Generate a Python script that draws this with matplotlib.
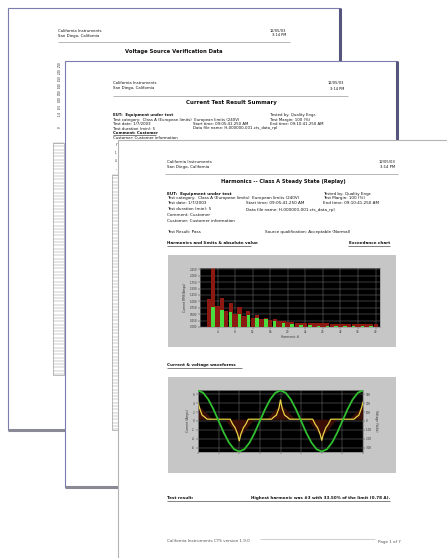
import matplotlib
matplotlib.use("Agg")
import matplotlib.pyplot as plt
from matplotlib.patches import Rectangle

W, H = 447, 558

# harmonic chart on the front page (orders 2..40)
harm_order = list(range(2, 41))
harm_limit = [1.08, 2.30, 0.80, 1.14, 0.62, 0.92, 0.50, 0.78, 0.42, 0.62,
              0.36, 0.47, 0.30, 0.36, 0.26, 0.30, 0.22, 0.24, 0.20, 0.20,
              0.16, 0.16, 0.15, 0.15, 0.14, 0.14, 0.14, 0.14, 0.13, 0.13,
              0.13, 0.13, 0.13, 0.13, 0.13, 0.13, 0.13, 0.13, 0.13]
odd_order = [3, 5, 7, 9, 11, 13, 15, 17, 19, 21, 23, 25, 27, 29, 31, 33, 35, 37, 39]
harm_meas = [0.78, 0.68, 0.59, 0.52, 0.45, 0.35, 0.30, 0.24, 0.16, 0.12,
             0.08, 0.06, 0.05, 0.04, 0.04, 0.03, 0.03, 0.02, 0.02]
harm_xticks = [4, 8, 12, 16, 20, 24, 28, 32, 36, 40]
harm_yticks = [0, 0.25, 0.5, 0.75, 1.0, 1.25, 1.5, 1.75, 2.0, 2.25]

# waveform chart (time in ms)
wave_t = [0, 1.25, 2.5, 3.75, 5, 6.25, 7.5, 8.75, 10, 11.25, 12.5, 13.75, 15,
          16.25, 17.5, 18.75, 20, 21.25, 22.5, 23.75, 25, 26.25, 27.5, 28.75,
          30, 31.25, 32.5, 33.75, 35, 36.25, 37.5, 38.75, 40]
volt = [340, 314, 240, 130, 0, -130, -240, -314, -340, -314, -240, -130, 0,
        130, 240, 314, 340, 314, 240, 130, 0, -130, -240, -314, -340, -314,
        -240, -130, 0, 130, 240, 314, 340]
cur_t = [0.0, 0.4, 1.0, 1.6, 2.2, 7.8, 8.4, 9.0, 9.6, 10.0, 10.4, 11.0, 11.6,
         12.2, 17.8, 18.4, 19.0, 19.6, 20.0, 20.4, 21.0, 21.6, 22.2, 27.8, 28.4,
         29.0, 29.6, 30.0, 30.4, 31.0, 31.6, 32.2, 37.8, 38.4, 39.0, 39.6, 40.0]
cur_a = [4.2, 2.8, 1.3, 0.9, 0.4, 0.4, -0.7, -1.5, -2.9, -4.4, -2.9, -1.5, -0.7,
         0.4, 0.4, 0.9, 1.3, 2.8, 4.7, 2.8, 1.3, 0.9, 0.4, 0.4, -0.7,
         -1.5, -2.9, -4.3, -2.9, -1.5, -0.7, 0.4, 0.4, 0.9, 1.3, 2.8, 4.2]
env_t = [0, 3.5, 6.5, 10, 13.5, 16.5, 20, 23.5, 26.5, 30, 33.5, 36.5, 40]
env_a = [3.6, 0.4, 0.4, -3.6, 0.4, 0.4, 3.8, 0.4, 0.4, -3.6, 0.4, 0.4, 3.6]
cur_ticks = [-6, -4, -2, 0, 2, 4, 6]
volt_ticks = [-300, -200, -100, 0, 100, 200, 300]

fig = plt.figure(figsize=(W / 100, H / 100), dpi=100)
ax = fig.add_axes([0, 0, 1, 1])
ax.set_xlim(0, W)
ax.set_ylim(H, 0)
ax.axis("off")


def txt(x, y, s, size=2.9, z=11, **kw):
    kw.setdefault("color", "#111111")
    ax.text(x, y, s, fontsize=size, va="center", zorder=z, **kw)


def hline(x0, x1, y, z=11, c="#9a9a9a", lw=0.5):
    ax.plot([x0, x1], [y, y], color=c, lw=lw, zorder=z, solid_capstyle="butt")


def page(x0, y0, x1, y1, z, edge, thick=None):
    ax.add_patch(Rectangle((x0, y0), x1 - x0, y1 - y0, facecolor="white",
                           edgecolor=edge, lw=0.8, zorder=z))
    if thick:
        ax.plot([x1, x1], [y0, y1], color=thick, lw=2.2, zorder=z, solid_capstyle="butt")
        ax.plot([x0, x1], [y1, y1], color="#8a8a96", lw=2.2, zorder=z, solid_capstyle="butt")


def table(x0, x1, y0, y1, z):
    ax.add_patch(Rectangle((x0, y0), x1 - x0, y1 - y0, facecolor="white",
                           edgecolor="#8a8a8a", lw=0.4, zorder=z))
    y = y0
    while y < y1:
        hline(x0, x1, y, z=z, c="#9a9a9a", lw=0.35)
        y += 3.3


def px_axes(x0, y0, x1, y1):
    return fig.add_axes([x0 / W, 1 - y1 / H, (x1 - x0) / W, (y1 - y0) / H])


# ---- back page: voltage source verification
page(8, 8, 340, 430, 1, "#7c7cae", "#55557e")
txt(58, 30.5, "California Instruments", 2.8, z=2)
txt(58, 35.5, "San Diego, California", 2.8, z=2)
txt(286, 30.5, "12/05/03", 2.6, z=2, ha="right")
txt(286, 35.5, "3:14 PM", 2.6, z=2, ha="right")
hline(58, 290, 42, z=2)
txt(174, 51.5, "Voltage Source Verification Data", 3.8, z=2, ha="center", fontweight="bold")
for yy, lab in zip([64, 71, 78, 85, 92, 99, 106, 113, 127],
                   ["2.50", "2.00", "1.50", "1.00", "0.50", "0.00", "-0.5", "-1.0", "V"]):
    txt(60, yy, lab, 1.9, z=2, ha="center", rotation=90)
table(53, 64, 143, 375, 2)

# ---- middle page: current test result summary
page(65, 61, 397, 487, 5, "#7c7cae", "#55557e")
txt(113, 83.5, "California Instruments", 2.8, z=6)
txt(113, 88.5, "San Diego, California", 2.8, z=6)
txt(344, 83.5, "12/05/03", 2.6, z=6, ha="right")
txt(344, 88.5, "3:14 PM", 2.6, z=6, ha="right")
hline(113, 348, 95.5, z=6)
txt(231, 102.5, "Current Test Result Summary", 4.0, z=6, ha="center", fontweight="bold")
txt(113, 115, "EUT:  Equipment under test", 2.8, z=6, fontweight="bold")
txt(270, 115, "Tested by: Quality Engr.", 2.8, z=6)
txt(113, 119.5, "Test category:  Class A (European limits)  European limits (240V)", 2.8, z=6)
txt(270, 119.5, "Test Margin: 100 (%)", 2.8, z=6)
txt(113, 124, "Test date: 1/7/2003", 2.8, z=6)
txt(193, 124, "Start time: 09:05:41.250 AM", 2.8, z=6)
txt(270, 124, "End time: 09:10:41.250 AM", 2.8, z=6)
txt(113, 128.5, "Test duration (min): 5", 2.8, z=6)
txt(193, 128.5, "Data file name: H-000000-001.cts_data_rpl", 2.8, z=6)
txt(113, 133, "Comment: Customer", 2.8, z=6, fontweight="bold")
hline(113, 156, 135.3, z=6, c="#222222", lw=0.4)
txt(113, 137.8, "Customer: Customer information", 2.8, z=6)
for yy, lab in zip([145, 153, 161, 169], ["Y", "1", "4", "-"]):
    txt(116, yy, lab, 1.9, z=6, ha="center")
table(112, 122, 175, 430, 6)

# ---- front page: harmonics
page(118, 140, 470, 580, 10, "#b4b4b4")
txt(167, 162, "California Instruments", 2.9)
txt(167, 167, "San Diego, California", 2.9)
txt(395, 162, "12/05/03", 2.7, ha="right")
txt(395, 167, "3:14 PM", 2.7, ha="right")
hline(165, 398, 174)
txt(283.5, 181.5, "Harmonics -- Class A Steady State (Replay)", 3.7, ha="center", fontweight="bold")

txt(167, 193.5, "EUT:  Equipment under test", 3.0, fontweight="bold")
txt(323, 193.5, "Tested by: Quality Engr.", 3.0)
txt(167, 198, "Test category:  Class A (European limits)  European limits (240V)", 3.0)
txt(323, 198, "Test Margin: 100 (%)", 3.0)
txt(167, 203, "Test date: 1/7/2003", 3.0)
txt(246, 203, "Start time: 09:05:41.250 AM", 3.0)
txt(323, 203, "End time: 09:10:41.250 AM", 3.0)
txt(167, 209.5, "Test duration (min): 5", 3.0)
txt(246, 209.5, "Data file name: H-000000-001.cts_data_rpl", 3.0)
txt(167, 215, "Comment: Customer", 3.0)
txt(167, 221, "Customer: Customer information", 3.0)

txt(167, 232, "Test Result: Pass", 3.0)
txt(265, 232, "Source qualification: Acceptable (Normal)", 3.0)
txt(167, 243.5, "Harmonics and limits & absolute value", 3.0, fontweight="bold")
hline(167, 251, 246.2, c="#222222", lw=0.4)
txt(390, 243.5, "Exceedance chart", 3.0, ha="right", fontweight="bold")
hline(348, 390, 246.2, c="#222222", lw=0.4)

ax.add_patch(Rectangle((168, 255), 228, 92, facecolor="#c6c6c6", edgecolor="none", zorder=11))

txt(167, 365, "Current & voltage waveforms", 3.0, fontweight="bold")
hline(167, 242, 367.7, c="#222222", lw=0.4)
ax.add_patch(Rectangle((168, 377), 228, 96, facecolor="#c6c6c6", edgecolor="none", zorder=11))

txt(167, 498, "Test result:", 3.0, fontweight="bold")
txt(390, 498, "Highest harmonic was #3 with 33.50% of the limit (0.78 A).", 3.0, ha="right",
    fontweight="bold")
hline(167, 390, 500.7, c="#222222", lw=0.4)

txt(167, 541.5, "California Instruments CTS version 1.9.0", 3.0, color="#555555")
txt(401, 541.5, "Page 1 of 7", 3.0, ha="right", color="#555555")
hline(260, 375, 538.5, c="#aaaaaa", lw=0.4)

# ---- harmonic bar chart
axh = px_axes(200, 268, 380, 327)
axh.set_facecolor("black")
axh.bar(harm_order, harm_limit, width=0.95, color="#8c1a12", zorder=2)
axh.bar(odd_order, harm_meas, width=0.8, color="#44ee44", alpha=0.92, zorder=3)
axh.set_xlim(0, 41)
axh.set_ylim(0, 2.3)
axh.set_xticks(harm_xticks)
axh.set_xticklabels([str(v) for v in harm_xticks])
axh.set_yticks(harm_yticks)
axh.set_yticklabels(["%.3f" % v for v in harm_yticks])
axh.grid(True, color="#7a7a7a", lw=0.35, zorder=1)
axh.set_axisbelow(True)
axh.tick_params(labelsize=2.0, length=1.2, width=0.3, pad=1, colors="#333333")
axh.set_ylabel("Current RMS(Amps)", fontsize=2.2, labelpad=1.5, color="#333333")
axh.set_xlabel("Harmonic #", fontsize=2.2, labelpad=1, color="#333333")
for s in axh.spines.values():
    s.set_color("#8a8a8a")
    s.set_linewidth(0.4)

# ---- waveform chart
axw = px_axes(198, 390, 363, 452)
axw.set_facecolor("black")
axw.fill_between(env_t, 0.4, env_a, color="#3c0f06", lw=0, zorder=2)
axw.plot(cur_t, cur_a, color="#e6d244", lw=0.9, zorder=3)
axw.set_xlim(0, 40)
axw.set_ylim(-6.9, 6.9)
axw.set_xticks(range(0, 41, 5))
axw.set_xticklabels([])
axw.set_yticks(cur_ticks)
axw.set_yticklabels([str(v) for v in cur_ticks])
axw.grid(True, color="#7a7a7a", lw=0.35, zorder=1)
axw.set_axisbelow(True)
axw.tick_params(labelsize=2.0, length=1.2, width=0.3, pad=1, colors="#333333")
axw.set_ylabel("Current (Amps)", fontsize=2.2, labelpad=1.5, color="#333333")
axv = axw.twinx()
axv.plot(wave_t, volt, color="#2fbf2f", lw=1.3, zorder=4)
axv.set_ylim(-345, 345)
axv.set_yticks(volt_ticks)
axv.set_yticklabels([str(v) for v in volt_ticks])
axv.tick_params(labelsize=2.0, length=1.2, width=0.3, pad=1, colors="#333333")
axv.set_ylabel("Voltage (Volts)", fontsize=2.2, labelpad=1.5, color="#333333",
               rotation=-90, va="bottom")
for a in (axw, axv):
    for s in a.spines.values():
        s.set_color("#8a8a8a")
        s.set_linewidth(0.4)

fig.savefig("out.png", dpi=100)
